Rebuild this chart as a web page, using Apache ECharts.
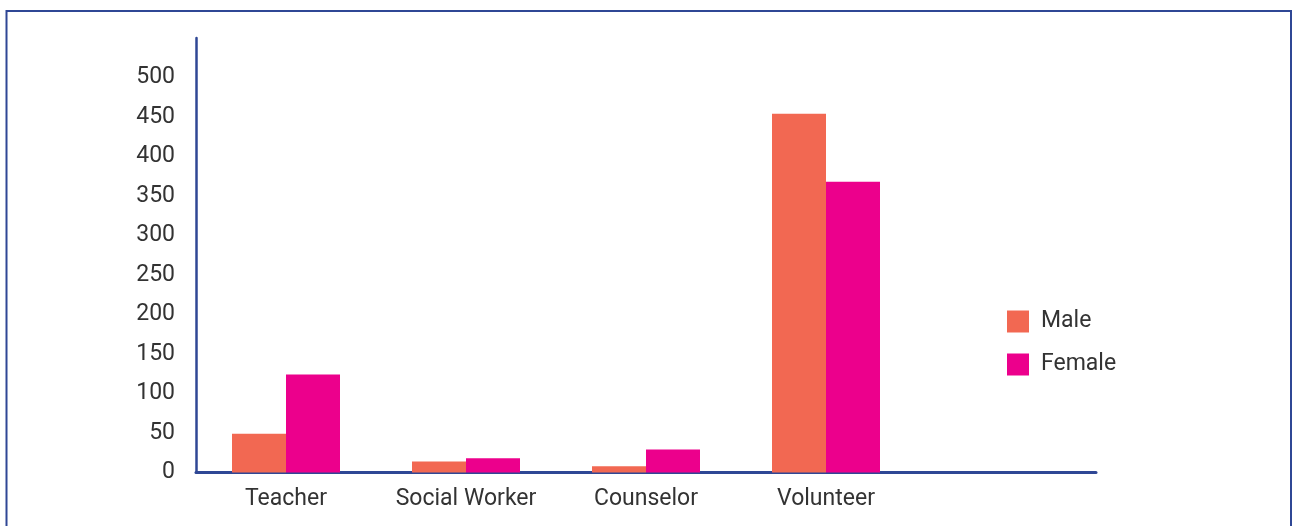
<!DOCTYPE html>
<html>
<head>
<meta charset="utf-8">
<script src="https://cdn.jsdelivr.net/npm/echarts@6/dist/echarts.min.js"></script>
<style>html,body{margin:0;padding:0;background:#fff;}#c{width:1292px;height:526px;}</style>
</head>
<body>
<div id="c"></div>
<script>
const categories = ['Teacher', 'Social Worker', 'Counselor', 'Volunteer', ''];
const maleValues = [49, 14, 8, 454, null];
const femaleValues = [124, 18, 29, 368, null];
const seriesNames = ['Male', 'Female'];

const axisColor = '#2f4795';
const textColor = '#333333';
const font = 'Roboto, "Liberation Sans", sans-serif';

const chart = echarts.init(document.getElementById('c'));
chart.setOption({
  animation: false,
  backgroundColor: '#ffffff',
  graphic: [{
    type: 'rect',
    shape: { x: 6.5, y: 11, width: 1284.5, height: 600 },
    style: { fill: 'none', stroke: axisColor, lineWidth: 2 }
  }],
  grid: { left: 196, right: 1292 - 1096, top: 38, bottom: 53.5, containLabel: false },
  legend: {
    orient: 'vertical',
    left: 1002,
    top: 305,
    itemWidth: 22,
    itemHeight: 22,
    itemGap: 20,
    icon: 'rect',
    textStyle: { fontFamily: font, fontSize: 23, color: textColor, padding: [0, 0, 0, 7] },
    data: seriesNames
  },
  xAxis: {
    type: 'category',
    data: categories,
    axisLine: { show: true, lineStyle: { color: axisColor, width: 3 } },
    axisTick: { show: false },
    axisLabel: { fontFamily: font, fontSize: 23, color: textColor, margin: 15, interval: 0 },
    splitLine: { show: false }
  },
  yAxis: {
    type: 'value',
    min: 0,
    max: 550,
    interval: 50,
    axisLine: { show: true, lineStyle: { color: axisColor, width: 2.5 } },
    axisTick: { show: false },
    splitLine: { show: false },
    axisLabel: {
      fontFamily: font, fontSize: 23, color: textColor, margin: 21,
      formatter: v => (v > 500 ? '' : String(v))
    }
  },
  series: [
    { name: seriesNames[0], type: 'bar', data: maleValues, barWidth: 54, barGap: '0%', itemStyle: { color: '#f26852' } },
    { name: seriesNames[1], type: 'bar', data: femaleValues, barWidth: 54, barGap: '0%', itemStyle: { color: '#ec008c' } }
  ]
});
</script>
</body>
</html>
